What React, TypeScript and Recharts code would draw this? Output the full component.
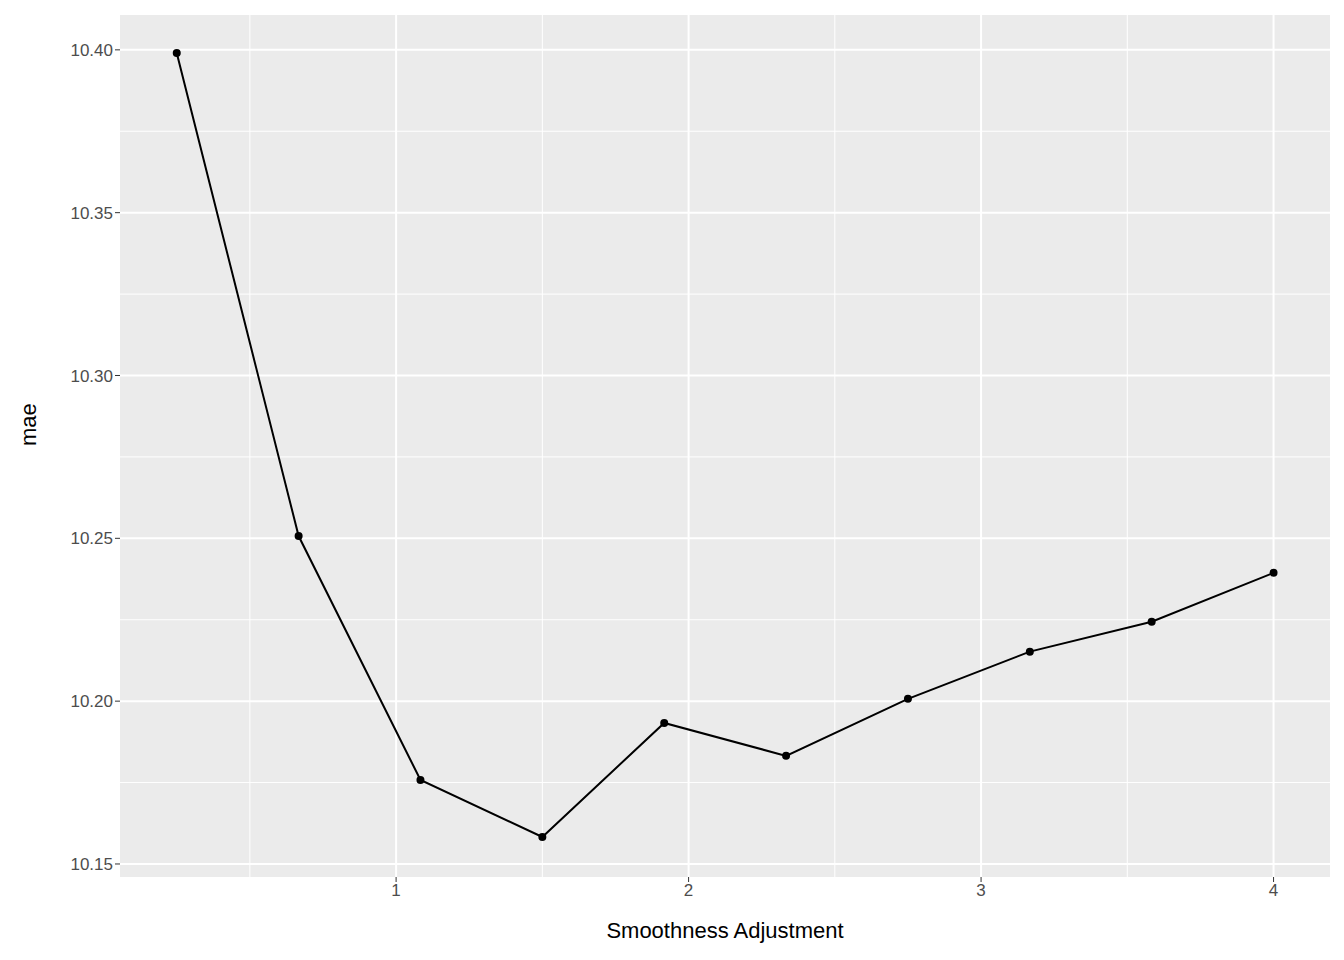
import { LineChart, Line, XAxis, YAxis, CartesianGrid } from 'recharts'

const smoothness = [0.25, 0.6667, 1.0833, 1.5, 1.9167, 2.3333, 2.75, 3.1667, 3.5833, 4]
const mae = [10.399, 10.2507, 10.1758, 10.1583, 10.1933, 10.1832, 10.2007, 10.2152, 10.2244, 10.2394]
const xTicks = [1, 2, 3, 4]
const yTicks = [10.15, 10.2, 10.25, 10.3, 10.35, 10.4]
const xMinor = [0.5, 1.5, 2.5, 3.5]
const yMinor = [10.175, 10.225, 10.275, 10.325, 10.375]

const data = smoothness.map((s, i) => ({ s, mae: mae[i] }))

const font = 'Liberation Sans, Arial, sans-serif'
const tickStyle = { fill: '#4D4D4D', fontSize: 17, fontFamily: font }

export default function App() {
  return (
    <div style={{ margin: -8, background: '#fff' }}>
      <LineChart width={1344} height={960} data={data} margin={{ top: 15, right: 14, left: 0, bottom: 0 }}>
        <CartesianGrid fill="#EBEBEB" stroke="#fff" strokeWidth={1}
          horizontalValues={yMinor} verticalValues={xMinor} />
        <CartesianGrid stroke="#fff" strokeWidth={2} fillOpacity={0}
          horizontalValues={yTicks} verticalValues={xTicks} />
        <XAxis type="number" dataKey="s" domain={[0.056, 4.193]} ticks={xTicks} allowDataOverflow
          height={83} axisLine={false} tickLine={{ stroke: '#333', strokeWidth: 1 }} tickSize={5}
          tick={tickStyle} tickFormatter={(v: number) => String(v)}
          label={{ value: 'Smoothness Adjustment', position: 'insideBottom', offset: 22, fill: '#000', fontSize: 22, fontFamily: font }} />
        <YAxis type="number" domain={[10.146, 10.4107]} ticks={yTicks} allowDataOverflow
          width={120} axisLine={false} tickLine={{ stroke: '#333', strokeWidth: 1 }} tickSize={5}
          tick={tickStyle} tickFormatter={(v: number) => v.toFixed(2)}
          label={{ value: 'mae', angle: -90, position: 'insideLeft', offset: 28, fill: '#000', fontSize: 22, fontFamily: font }} />
        <Line type="linear" dataKey="mae" stroke="#000" strokeWidth={2}
          dot={{ r: 4, fill: '#000', stroke: '#000', strokeWidth: 0 }} isAnimationActive={false} />
      </LineChart>
    </div>
  )
}
